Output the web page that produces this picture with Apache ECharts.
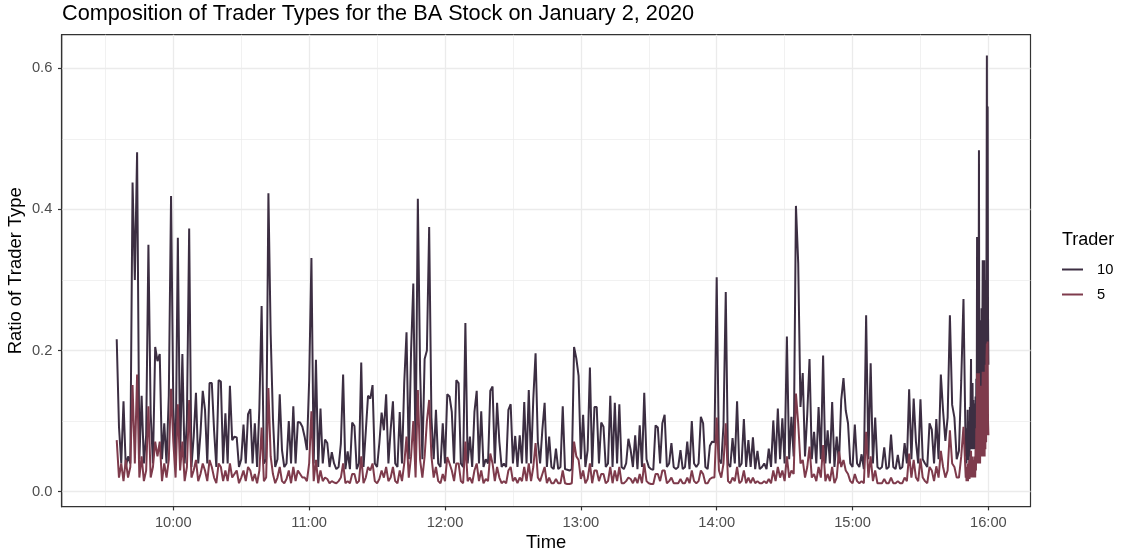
<!DOCTYPE html>
<html>
<head>
<meta charset="utf-8">
<title>Composition of Trader Types</title>
<script src="https://cdn.jsdelivr.net/npm/echarts@6.0.0/dist/echarts.min.js"></script>
<style>
  html, body { margin: 0; padding: 0; background: #fff; }
  #chart { width: 1122px; height: 555px; }
</style>
</head>
<body>
<div id="chart"></div>
<script>
// one value per minute, starting 9:35 (575 minutes after midnight)
var startMinute = 575;
var trader10 = [
  0.216, 0.092, 0.04, 0.128, 0.035, 0.05, 0.04, 0.438, 0.30, 0.481,
  0.046, 0.136, 0.04, 0.08, 0.35, 0.11, 0.04, 0.205, 0.185, 0.195,
  0.046, 0.097, 0.04, 0.136, 0.419, 0.119, 0.04, 0.36, 0.05, 0.195,
  0.04, 0.10, 0.373, 0.035, 0.078, 0.14, 0.04, 0.083, 0.143, 0.116,
  0.04, 0.154, 0.154, 0.087, 0.035, 0.158, 0.156, 0.04, 0.111, 0.04,
  0.15, 0.073, 0.078, 0.077, 0.035, 0.046, 0.095, 0.04, 0.11, 0.117,
  0.04, 0.097, 0.035, 0.118, 0.263, 0.04, 0.046, 0.423, 0.223, 0.104,
  0.035, 0.046, 0.138, 0.059, 0.035, 0.04, 0.10, 0.04, 0.121, 0.04,
  0.099, 0.098, 0.092, 0.078, 0.059, 0.158, 0.331, 0.04, 0.187, 0.035,
  0.118, 0.04, 0.074, 0.069, 0.035, 0.056, 0.04, 0.032, 0.035, 0.068,
  0.166, 0.032, 0.057, 0.032, 0.098, 0.093, 0.032, 0.04, 0.183, 0.035,
  0.085, 0.136, 0.132, 0.151, 0.04, 0.035, 0.069, 0.112, 0.087, 0.138,
  0.04, 0.088, 0.128, 0.04, 0.035, 0.113, 0.04, 0.155, 0.226, 0.046,
  0.198, 0.295, 0.05, 0.415, 0.172, 0.046, 0.188, 0.20, 0.375, 0.105,
  0.046, 0.116, 0.04, 0.035, 0.097, 0.04, 0.138, 0.135, 0.113, 0.04,
  0.158, 0.154, 0.04, 0.035, 0.239, 0.04, 0.078, 0.035, 0.113, 0.143,
  0.04, 0.114, 0.035, 0.046, 0.04, 0.143, 0.149, 0.04, 0.126, 0.071,
  0.035, 0.04, 0.035, 0.116, 0.124, 0.04, 0.079, 0.035, 0.08, 0.04,
  0.127, 0.04, 0.144, 0.04, 0.132, 0.196, 0.071, 0.04, 0.088, 0.126,
  0.035, 0.078, 0.035, 0.032, 0.061, 0.032, 0.035, 0.121, 0.032, 0.031,
  0.03, 0.032, 0.205, 0.189, 0.164, 0.046, 0.109, 0.035, 0.059, 0.176,
  0.035, 0.12, 0.12, 0.04, 0.098, 0.092, 0.035, 0.04, 0.136, 0.035,
  0.126, 0.04, 0.124, 0.035, 0.032, 0.04, 0.075, 0.059, 0.035, 0.08,
  0.032, 0.094, 0.035, 0.14, 0.046, 0.035, 0.032, 0.031, 0.094, 0.091,
  0.04, 0.097, 0.109, 0.035, 0.04, 0.069, 0.035, 0.032, 0.035, 0.059,
  0.032, 0.035, 0.071, 0.032, 0.10, 0.04, 0.035, 0.04, 0.106, 0.097,
  0.035, 0.032, 0.065, 0.071, 0.07, 0.304, 0.046, 0.04, 0.094, 0.283,
  0.04, 0.035, 0.076, 0.04, 0.128, 0.035, 0.04, 0.103, 0.035, 0.073,
  0.035, 0.077, 0.032, 0.058, 0.032, 0.035, 0.04, 0.032, 0.061, 0.035,
  0.101, 0.04, 0.118, 0.046, 0.104, 0.04, 0.22, 0.046, 0.106, 0.05,
  0.405, 0.324, 0.12, 0.168, 0.05, 0.11, 0.188, 0.046, 0.085, 0.04,
  0.12, 0.046, 0.193, 0.04, 0.087, 0.04, 0.127, 0.035, 0.078, 0.04,
  0.13, 0.161, 0.115, 0.097, 0.04, 0.035, 0.095, 0.04, 0.035, 0.053,
  0.032, 0.25, 0.046, 0.182, 0.04, 0.105, 0.035, 0.032, 0.035, 0.063,
  0.032, 0.035, 0.081, 0.035, 0.032, 0.052, 0.032, 0.035, 0.069, 0.04,
  0.145, 0.046, 0.132, 0.071, 0.04, 0.131, 0.046, 0.04, 0.035, 0.097,
  0.088, 0.04, 0.103, 0.046, 0.166, 0.114, 0.072, 0.105, 0.25, 0.123,
  0.105, 0.046, 0.058, 0.157, 0.273
];
var trader5 = [
  0.073, 0.02, 0.04, 0.015, 0.045, 0.02, 0.035, 0.151, 0.04, 0.166,
  0.02, 0.05, 0.015, 0.03, 0.121, 0.02, 0.035, 0.071, 0.05, 0.071,
  0.015, 0.04, 0.02, 0.045, 0.146, 0.071, 0.02, 0.124, 0.03, 0.071,
  0.015, 0.035, 0.13, 0.02, 0.03, 0.045, 0.015, 0.025, 0.04, 0.03,
  0.015, 0.045, 0.035, 0.02, 0.012, 0.04, 0.035, 0.015, 0.03, 0.015,
  0.04, 0.02, 0.025, 0.03, 0.012, 0.02, 0.03, 0.015, 0.035, 0.03,
  0.015, 0.025, 0.012, 0.03, 0.091, 0.015, 0.02, 0.147, 0.05, 0.025,
  0.012, 0.02, 0.035, 0.015, 0.012, 0.018, 0.03, 0.012, 0.035, 0.015,
  0.03, 0.025, 0.02, 0.02, 0.015, 0.04, 0.114, 0.015, 0.045, 0.012,
  0.03, 0.015, 0.02, 0.018, 0.012, 0.015, 0.013, 0.012, 0.015, 0.02,
  0.04, 0.012, 0.015, 0.012, 0.025, 0.025, 0.012, 0.015, 0.05, 0.012,
  0.02, 0.035, 0.03, 0.04, 0.015, 0.012, 0.018, 0.03, 0.02, 0.035,
  0.015, 0.02, 0.035, 0.015, 0.012, 0.03, 0.015, 0.04, 0.078, 0.02,
  0.05, 0.10, 0.02, 0.144, 0.045, 0.02, 0.05, 0.10, 0.13, 0.05,
  0.02, 0.035, 0.015, 0.012, 0.025, 0.015, 0.049, 0.04, 0.03, 0.015,
  0.04, 0.04, 0.015, 0.012, 0.071, 0.015, 0.02, 0.012, 0.03, 0.04,
  0.015, 0.03, 0.012, 0.018, 0.015, 0.054, 0.04, 0.015, 0.035, 0.02,
  0.012, 0.015, 0.012, 0.03, 0.035, 0.015, 0.02, 0.012, 0.02, 0.015,
  0.035, 0.015, 0.04, 0.015, 0.035, 0.069, 0.02, 0.015, 0.025, 0.035,
  0.012, 0.02, 0.012, 0.012, 0.018, 0.012, 0.012, 0.03, 0.012, 0.011,
  0.011, 0.012, 0.071, 0.05, 0.045, 0.018, 0.03, 0.012, 0.018, 0.04,
  0.012, 0.03, 0.03, 0.015, 0.025, 0.025, 0.012, 0.015, 0.035, 0.012,
  0.03, 0.015, 0.035, 0.012, 0.012, 0.015, 0.02, 0.018, 0.012, 0.02,
  0.012, 0.025, 0.012, 0.04, 0.015, 0.012, 0.011, 0.011, 0.025, 0.025,
  0.015, 0.03, 0.03, 0.012, 0.015, 0.02, 0.012, 0.012, 0.012, 0.018,
  0.012, 0.012, 0.02, 0.012, 0.03, 0.015, 0.012, 0.015, 0.03, 0.025,
  0.012, 0.012, 0.018, 0.02, 0.02, 0.105, 0.03, 0.02, 0.04, 0.097,
  0.015, 0.012, 0.02, 0.015, 0.035, 0.012, 0.015, 0.03, 0.012, 0.02,
  0.012, 0.02, 0.012, 0.015, 0.012, 0.012, 0.015, 0.012, 0.018, 0.012,
  0.03, 0.015, 0.035, 0.02, 0.03, 0.015, 0.05, 0.02, 0.03, 0.025,
  0.139, 0.097, 0.04, 0.045, 0.02, 0.035, 0.064, 0.02, 0.025, 0.015,
  0.035, 0.02, 0.066, 0.015, 0.025, 0.015, 0.035, 0.012, 0.02, 0.057,
  0.035, 0.045, 0.03, 0.025, 0.015, 0.012, 0.025, 0.015, 0.012, 0.015,
  0.012, 0.085, 0.02, 0.05, 0.015, 0.03, 0.012, 0.012, 0.012, 0.018,
  0.012, 0.012, 0.02, 0.012, 0.012, 0.015, 0.012, 0.012, 0.02, 0.015,
  0.054, 0.02, 0.045, 0.02, 0.015, 0.047, 0.02, 0.015, 0.012, 0.035,
  0.03, 0.015, 0.036, 0.02, 0.058, 0.035, 0.02, 0.03, 0.087, 0.04,
  0.035, 0.02, 0.02, 0.05, 0.092
];
// last ten minutes (15:50 - 16:00), one value every 10 seconds
var closeStart = 950;
var closeStep = 1 / 6;
var trader10Close = [
  0.05, 0.09, 0.04, 0.07, 0.045, 0.116, 0.05, 0.08, 0.045, 0.10, 0.05, 0.12,
  0.06, 0.14, 0.188, 0.07, 0.12, 0.06, 0.154, 0.08, 0.13, 0.06, 0.11, 0.07,
  0.125, 0.06, 0.135, 0.07, 0.16, 0.08, 0.361, 0.10, 0.22, 0.09, 0.20, 0.484,
  0.12, 0.24, 0.10, 0.21, 0.243, 0.11, 0.26, 0.12, 0.22, 0.328, 0.13, 0.25,
  0.11, 0.328, 0.14, 0.27, 0.12, 0.30, 0.15, 0.33, 0.618, 0.20, 0.546, 0.25, 0.18
];
var trader5Close = [
  0.02, 0.035, 0.015, 0.03, 0.02, 0.04, 0.015, 0.03, 0.02, 0.045, 0.018, 0.04,
  0.02, 0.05, 0.058, 0.02, 0.04, 0.02, 0.05, 0.025, 0.045, 0.02, 0.04, 0.025,
  0.05, 0.02, 0.06, 0.03, 0.09, 0.04, 0.168, 0.05, 0.12, 0.04, 0.10, 0.168,
  0.05, 0.13, 0.04, 0.12, 0.15, 0.05, 0.14, 0.06, 0.12, 0.17, 0.05, 0.15,
  0.06, 0.17, 0.05, 0.16, 0.06, 0.18, 0.07, 0.19, 0.21, 0.08, 0.213, 0.10, 0.08
];
var hourTicks = [600, 660, 720, 780, 840, 900, 960];
var halfHourTicks = [570, 630, 690, 750, 810, 870, 930];
var yTicks = [0, 0.2, 0.4, 0.6];
var yMinorTicks = [0.1, 0.3, 0.5];

var DARK = '#3C2E42';
var RED = '#7E3B4C';
var FONT = '"Liberation Sans", Arial, sans-serif';

function pairs(minuteVals, closeVals) {
  var out = [];
  for (var i = 0; i < minuteVals.length; i++) {
    out.push([startMinute + i, minuteVals[i]]);
  }
  for (var j = 0; j < closeVals.length; j++) {
    out.push([closeStart + j * closeStep, closeVals[j]]);
  }
  return out;
}

function hhmm(m) {
  var h = Math.floor(m / 60);
  var mm = Math.round(m - h * 60);
  return (h < 10 ? '0' : '') + h + ':' + (mm < 10 ? '0' : '') + mm;
}

var chart = echarts.init(document.getElementById('chart'), null, { renderer: 'canvas' });

var option = {
  backgroundColor: '#fff',
  animation: false,
  title: [{
    text: 'Composition of Trader Types for the BA Stock on January 2, 2020',
    left: 62,
    top: 3,
    padding: 0,
    textStyle: { fontFamily: FONT, fontSize: 21.7, fontWeight: 'normal', color: '#000' }
  }, {
    text: 'Trader',
    left: 1062,
    top: 231,
    padding: 0,
    textStyle: { fontFamily: FONT, fontSize: 18, fontWeight: 'normal', color: '#000' }
  }],
  legend: {
    data: ['10', '5'],
    orient: 'vertical',
    left: 1062,
    top: 262,
    padding: 0,
    itemGap: 10,
    itemWidth: 21,
    itemHeight: 2,
    icon: 'rect',
    textStyle: { fontFamily: FONT, fontSize: 14.7, color: '#000', padding: [0, 0, 0, 9] }
  },
  grid: {
    left: 61.7,
    right: 91.5,
    top: 34.7,
    bottom: 48.3,
    containLabel: false,
    outerBoundsMode: 'none',
    show: true,
    borderColor: '#333',
    borderWidth: 1.2
  },
  xAxis: [{
    type: 'value',
    min: 550.7,
    max: 978.6,
    name: 'Time',
    nameLocation: 'middle',
    nameGap: 27.5,
    nameMoveOverlap: false,
    nameTextStyle: { fontFamily: FONT, fontSize: 18.4, color: '#000' },
    axisLine: { show: true, onZero: false, lineStyle: { color: '#333', width: 1.2 } },
    axisTick: { show: true, length: 3.7, customValues: hourTicks, lineStyle: { color: '#333', width: 1.2 } },
    axisLabel: {
      customValues: hourTicks,
      margin: 9,
      fontFamily: FONT, fontSize: 14.7, color: '#4D4D4D',
      formatter: function (v) { return hhmm(v); }
    },
    splitLine: { show: true, lineStyle: { color: '#EBEBEB', width: 1.35 } }
  }, {
    type: 'value',
    position: 'top',
    min: 550.7,
    max: 978.6,
    axisLine: { show: false },
    axisTick: { show: false, customValues: halfHourTicks },
    axisLabel: { show: false, customValues: halfHourTicks },
    splitLine: { show: true, lineStyle: { color: '#EBEBEB', width: 0.7 } }
  }],
  yAxis: [{
    type: 'value',
    min: -0.02126,
    max: 0.6476,
    name: 'Ratio of Trader Type',
    nameLocation: 'middle',
    nameGap: 36.5,
    nameMoveOverlap: false,
    nameRotate: 90,
    nameTextStyle: { fontFamily: FONT, fontSize: 18.4, color: '#000' },
    axisLine: { show: true, onZero: false, lineStyle: { color: '#333', width: 1.2 } },
    axisTick: { show: true, length: 3.7, customValues: yTicks, lineStyle: { color: '#333', width: 1.2 } },
    axisLabel: {
      customValues: yTicks,
      margin: 9.4,
      fontFamily: FONT, fontSize: 14.7, color: '#4D4D4D',
      formatter: function (v) { return v.toFixed(1); }
    },
    splitLine: { show: true, lineStyle: { color: '#EBEBEB', width: 1.35 } }
  }, {
    type: 'value',
    position: 'right',
    min: -0.02126,
    max: 0.6476,
    axisLine: { show: false },
    axisTick: { show: false, customValues: yMinorTicks },
    axisLabel: { show: false, customValues: yMinorTicks },
    splitLine: { show: true, lineStyle: { color: '#EBEBEB', width: 0.7 } }
  }],
  series: [{
    name: '10',
    type: 'line',
    xAxisIndex: 0,
    yAxisIndex: 0,
    showSymbol: false,
    symbol: 'none',
    color: DARK,
    lineStyle: { color: DARK, width: 2 },
    data: pairs(trader10, trader10Close)
  }, {
    name: '5',
    type: 'line',
    xAxisIndex: 0,
    yAxisIndex: 0,
    showSymbol: false,
    symbol: 'none',
    color: RED,
    lineStyle: { color: RED, width: 2 },
    data: pairs(trader5, trader5Close)
  }]
};

chart.setOption(option);
window.addEventListener('resize', function () { chart.resize(); });
</script>
</body>
</html>
